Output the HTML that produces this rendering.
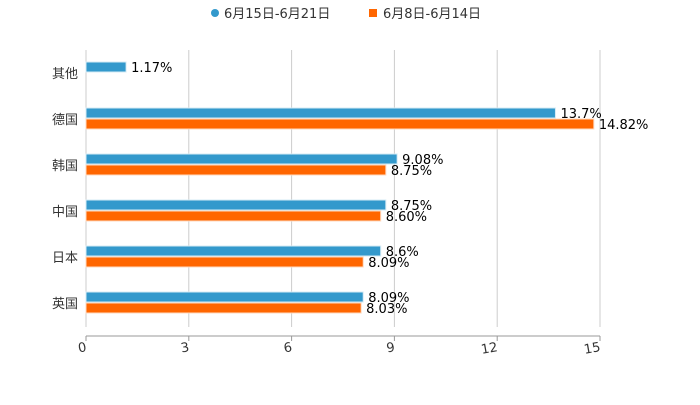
<!DOCTYPE html>
<html><head><meta charset="utf-8"><style>
body{margin:0;background:#fff;}
svg{font-family:"DejaVu Sans","Noto Sans CJK SC",sans-serif;}
</style></head><body>
<svg id="c" width="700" height="400">
<g>
 <circle cx="215" cy="13" r="4" fill="#3399cc"/>
 <text x="224" y="18" font-size="13" fill="#333">6月15日-6月21日</text>
 <rect x="369" y="9" width="8" height="8" fill="#ff6600"/>
 <text x="383" y="18" font-size="13" fill="#333">6月8日-6月14日</text>
</g>
</svg>
<script>
const categories=["其他","德国","韩国","中国","日本","英国"];
const seriesA=[1.17,13.7,9.08,8.75,8.6,8.09];
const seriesB=[null,14.82,8.75,8.60,8.09,8.03];
const labelsA=["1.17%","13.7%","9.08%","8.75%","8.6%","8.09%"];
const labelsB=["","14.82%","8.75%","8.60%","8.09%","8.03%"];
const ticks=[0,3,6,9,12,15];
const svg=document.getElementById('c');
const NS='http://www.w3.org/2000/svg';
const x0=86,x1=600,xmax=15;
const xs=v=>x0+(x1-x0)*v/xmax;
const ys=i=>73+46*i;
function mk(t,a){const e=document.createElementNS(NS,t);for(const k in a)e.setAttribute(k,a[k]);svg.appendChild(e);return e;}
ticks.forEach(t=>{
 const g=mk('line',{x1:xs(t),x2:xs(t),y1:50,y2:327,stroke:'#ccc','stroke-width':1});
 
 
 const tk=mk('line',{x1:xs(t),x2:xs(t),y1:336,y2:341,stroke:'#999'});
 
 
 const tx=mk('text',{x:xs(t)+1,y:351,'font-size':13,fill:'#333','text-anchor':'end',transform:`rotate(-10 ${xs(t)+1} 351)`});
 tx.textContent=t;
 
 
});
const ax=mk('line',{x1:x0,x2:x1,y1:336,y2:336,stroke:'#999'});


categories.forEach((c,i)=>{
 const cy=ys(i);
 const l=mk('text',{x:78,y:cy+5,'font-size':13,fill:'#333','text-anchor':'end'});
 l.textContent=c;
 
 
 if(seriesA[i]!=null){
  const b=mk('rect',{x:x0,y:cy-11,width:xs(seriesA[i])-x0,height:10,fill:'#3399cc',stroke:'#d6ebf5','stroke-width':1});
  
  
  const t=mk('text',{x:xs(seriesA[i])+5,y:cy-1,'font-size':13,fill:'#000'});
  t.textContent=labelsA[i];
  
  
 }
 if(seriesB[i]!=null){
  const b=mk('rect',{x:x0,y:cy,width:xs(seriesB[i])-x0,height:10,fill:'#ff6600',stroke:'#ffd9bf','stroke-width':1});
  
  
  const t=mk('text',{x:xs(seriesB[i])+5,y:cy+10,'font-size':13,fill:'#000'});
  t.textContent=labelsB[i];
  
  
 }
});
</script>
</body></html>
